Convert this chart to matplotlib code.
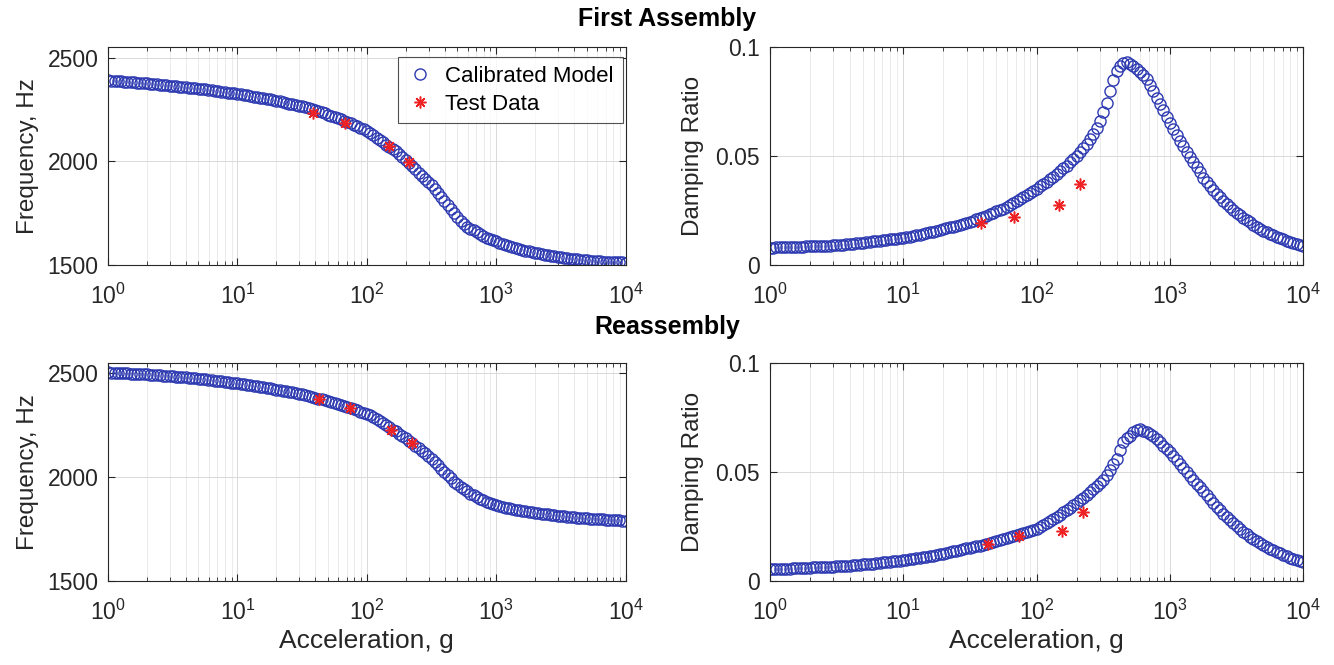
import numpy as np
import matplotlib
matplotlib.use("Agg")
import matplotlib.pyplot as plt
from matplotlib.ticker import LogLocator, NullLocator, FixedLocator

plt.rcParams['font.family'] = ['Liberation Sans', 'DejaVu Sans']
plt.rcParams['mathtext.default'] = 'regular'

# calibrated model, sampled every 1/40 decade from 1 g to 1e4 g
freq_first = [
    2390, 2389, 2388, 2387, 2386, 2384, 2383, 2382, 2381, 2379,
    2378, 2377, 2375, 2374, 2372, 2371, 2369, 2368, 2366, 2365,
    2363, 2361, 2360, 2358, 2356, 2355, 2353, 2351, 2350, 2348,
    2346, 2344, 2342, 2340, 2338, 2336, 2334, 2331, 2329, 2327,
    2325, 2322, 2320, 2317, 2315, 2312, 2309, 2306, 2304, 2301,
    2298, 2295, 2292, 2288, 2285, 2281, 2278, 2274, 2271, 2267,
    2264, 2260, 2255, 2250, 2245, 2240, 2235, 2230, 2225, 2220,
    2215, 2209, 2203, 2196, 2189, 2182, 2175, 2168, 2160, 2153,
    2145, 2135, 2124, 2113, 2102, 2091, 2080, 2069, 2058, 2047,
    2035, 2021, 2006, 1991, 1976, 1961, 1945, 1930, 1915, 1900,
    1885, 1866, 1846, 1826, 1806, 1787, 1767, 1748, 1730, 1712,
    1694, 1684, 1674, 1665, 1656, 1647, 1638, 1630, 1622, 1617,
    1612, 1606, 1600, 1594, 1589, 1584, 1579, 1575, 1571, 1568,
    1565, 1561, 1558, 1555, 1552, 1549, 1546, 1543, 1540, 1537,
    1535, 1533, 1531, 1529, 1527, 1526, 1524, 1522, 1521, 1519,
    1518, 1517, 1516, 1515, 1514, 1513, 1513, 1512, 1511, 1511,
    1510]

damp_first = [
    0.0078, 0.0078, 0.0079, 0.0079, 0.0080, 0.0080, 0.0081, 0.0081, 0.0082, 0.0082,
    0.0083, 0.0084, 0.0084, 0.0085, 0.0086, 0.0086, 0.0087, 0.0088, 0.0088, 0.0089,
    0.0090, 0.0091, 0.0092, 0.0093, 0.0095, 0.0096, 0.0098, 0.0100, 0.0101, 0.0103,
    0.0105, 0.0107, 0.0108, 0.0110, 0.0112, 0.0114, 0.0116, 0.0118, 0.0120, 0.0122,
    0.0124, 0.0127, 0.0129, 0.0132, 0.0135, 0.0138, 0.0141, 0.0145, 0.0148, 0.0151,
    0.0155, 0.0159, 0.0163, 0.0167, 0.0171, 0.0175, 0.0180, 0.0184, 0.0189, 0.0193,
    0.0198, 0.0203, 0.0208, 0.0214, 0.0220, 0.0226, 0.0232, 0.0238, 0.0245, 0.0251,
    0.0258, 0.0266, 0.0274, 0.0283, 0.0292, 0.0301, 0.0310, 0.0320, 0.0330, 0.0340,
    0.0350, 0.0360, 0.0371, 0.0382, 0.0394, 0.0405, 0.0417, 0.0430, 0.0443, 0.0456,
    0.0470, 0.0485, 0.0500, 0.0518, 0.0536, 0.0556, 0.0578, 0.0602, 0.0628, 0.0660,
    0.0700, 0.0745, 0.0800, 0.0850, 0.0890, 0.0915, 0.0928, 0.0930, 0.0925, 0.0915,
    0.0900, 0.0887, 0.0873, 0.0852, 0.0825, 0.0797, 0.0768, 0.0739, 0.0710, 0.0681,
    0.0652, 0.0624, 0.0597, 0.0570, 0.0544, 0.0519, 0.0494, 0.0470, 0.0447, 0.0425,
    0.0400, 0.0380, 0.0361, 0.0343, 0.0326, 0.0310, 0.0294, 0.0279, 0.0265, 0.0252,
    0.0239, 0.0227, 0.0215, 0.0204, 0.0194, 0.0184, 0.0175, 0.0166, 0.0157, 0.0149,
    0.0142, 0.0135, 0.0128, 0.0122, 0.0116, 0.0110, 0.0105, 0.0100, 0.0095, 0.0091,
    0.0087]

freq_re = [
    2505, 2504, 2503, 2503, 2502, 2501, 2500, 2499, 2499, 2498,
    2497, 2496, 2495, 2494, 2493, 2492, 2491, 2490, 2489, 2488,
    2487, 2485, 2484, 2482, 2481, 2479, 2477, 2476, 2474, 2473,
    2471, 2469, 2467, 2465, 2463, 2462, 2460, 2458, 2456, 2454,
    2452, 2450, 2447, 2445, 2443, 2440, 2438, 2435, 2433, 2430,
    2428, 2425, 2422, 2419, 2416, 2414, 2411, 2408, 2405, 2402,
    2399, 2395, 2391, 2387, 2383, 2379, 2375, 2371, 2367, 2362,
    2358, 2353, 2348, 2343, 2338, 2332, 2327, 2322, 2316, 2311,
    2305, 2297, 2288, 2279, 2269, 2259, 2249, 2239, 2229, 2220,
    2210, 2199, 2188, 2176, 2164, 2152, 2140, 2127, 2114, 2101,
    2088, 2072, 2056, 2040, 2024, 2008, 1993, 1978, 1964, 1951,
    1940, 1930, 1920, 1911, 1903, 1895, 1888, 1881, 1875, 1869,
    1864, 1860, 1856, 1852, 1848, 1845, 1842, 1839, 1836, 1834,
    1832, 1829, 1827, 1825, 1823, 1821, 1819, 1817, 1815, 1813,
    1812, 1810, 1809, 1807, 1806, 1804, 1803, 1802, 1800, 1799,
    1798, 1797, 1796, 1795, 1794, 1793, 1792, 1791, 1790, 1789,
    1788]

damp_re = [
    0.0052, 0.0053, 0.0053, 0.0054, 0.0054, 0.0055, 0.0055, 0.0056, 0.0056, 0.0057,
    0.0058, 0.0058, 0.0059, 0.0060, 0.0060, 0.0061, 0.0062, 0.0062, 0.0063, 0.0064,
    0.0065, 0.0066, 0.0067, 0.0068, 0.0069, 0.0070, 0.0071, 0.0073, 0.0074, 0.0075,
    0.0077, 0.0078, 0.0080, 0.0081, 0.0083, 0.0084, 0.0086, 0.0088, 0.0089, 0.0091,
    0.0093, 0.0095, 0.0097, 0.0099, 0.0102, 0.0104, 0.0107, 0.0110, 0.0112, 0.0115,
    0.0118, 0.0121, 0.0124, 0.0127, 0.0130, 0.0134, 0.0137, 0.0141, 0.0144, 0.0148,
    0.0151, 0.0154, 0.0158, 0.0161, 0.0165, 0.0169, 0.0173, 0.0177, 0.0181, 0.0186,
    0.0190, 0.0194, 0.0199, 0.0204, 0.0209, 0.0214, 0.0219, 0.0224, 0.0229, 0.0234,
    0.0239, 0.0247, 0.0255, 0.0264, 0.0273, 0.0282, 0.0292, 0.0302, 0.0313, 0.0324,
    0.0335, 0.0346, 0.0357, 0.0369, 0.0381, 0.0394, 0.0407, 0.0420, 0.0434, 0.0448,
    0.0463, 0.0485, 0.0510, 0.0535, 0.0560, 0.0600, 0.0635, 0.0655, 0.0667, 0.0683,
    0.0694, 0.0695, 0.0690, 0.0683, 0.0674, 0.0663, 0.0650, 0.0636, 0.0621, 0.0605,
    0.0590, 0.0573, 0.0555, 0.0537, 0.0518, 0.0500, 0.0482, 0.0464, 0.0446, 0.0429,
    0.0412, 0.0393, 0.0375, 0.0357, 0.0340, 0.0323, 0.0307, 0.0292, 0.0277, 0.0263,
    0.0250, 0.0237, 0.0225, 0.0213, 0.0202, 0.0192, 0.0182, 0.0172, 0.0163, 0.0155,
    0.0147, 0.0139, 0.0132, 0.0125, 0.0118, 0.0111, 0.0105, 0.0099, 0.0094, 0.0089,
    0.0084]

accel_model = 10 ** np.linspace(0, 4, len(freq_first))

# test data
accel_test_first = [38.5, 68, 147, 212]
freq_test_first = [2233, 2183, 2074, 1997]
damp_test_first = [0.0190, 0.0220, 0.0274, 0.0373]

accel_test_re = [43, 74, 155, 222]
freq_test_re = [2375, 2334, 2227, 2166]
damp_test_re = [0.0167, 0.0204, 0.0228, 0.0316]

blue = '#2c39b0'
red = '#ee2222'
star = (8, 2, 0)
txt = '#262626'

fig = plt.figure(figsize=(13.34, 6.65), dpi=100)
ax_tl = fig.add_axes([0.081, 0.602, 0.388, 0.327])
ax_tr = fig.add_axes([0.577, 0.602, 0.400, 0.327])
ax_bl = fig.add_axes([0.081, 0.127, 0.388, 0.327])
ax_br = fig.add_axes([0.577, 0.127, 0.400, 0.327])


def style(ax):
    ax.set_xscale('log')
    ax.set_xlim(1, 1e4)
    ax.xaxis.set_major_locator(LogLocator(base=10, numticks=10))
    ax.xaxis.set_minor_locator(LogLocator(base=10, subs=np.arange(2, 10), numticks=20))
    ax.yaxis.set_minor_locator(NullLocator())
    ax.grid(True, which='major', color='#d9d9d9', lw=0.7)
    ax.grid(True, which='minor', axis='x', color='#e8e8e8', lw=0.6)
    ax.set_axisbelow(True)
    ax.tick_params(which='both', direction='in', top=True, right=True,
                   labelsize=16.5, colors=txt)
    ax.tick_params(which='major', length=5)
    ax.tick_params(axis='x', which='major', pad=14)
    ax.tick_params(axis='y', which='major', pad=7)
    ax.tick_params(which='minor', length=3)
    for s in ax.spines.values():
        s.set_color(txt)
        s.set_linewidth(0.8)


for ax, f, acc_t, f_t in [(ax_tl, freq_first, accel_test_first, freq_test_first),
                          (ax_bl, freq_re, accel_test_re, freq_test_re)]:
    ax.plot(accel_model, f, 'o', mfc='none', mec=blue, ms=8, mew=1.0,
            label='Calibrated Model')
    ax.plot(acc_t, f_t, ls='none', marker=star, color=red, ms=8.5, mew=1.1,
            label='Test Data')
    style(ax)
    ax.set_ylim(1500, 2550)
    ax.yaxis.set_major_locator(FixedLocator([1500, 2000, 2500]))
    ax.set_ylabel('Frequency, Hz', fontsize=17.5, color=txt, labelpad=6)

for ax, d, acc_t, d_t in [(ax_tr, damp_first, accel_test_first, damp_test_first),
                          (ax_br, damp_re, accel_test_re, damp_test_re)]:
    ax.plot(accel_model, d, 'o', mfc='none', mec=blue, ms=8, mew=1.0)
    ax.plot(acc_t, d_t, ls='none', marker=star, color=red, ms=8.5, mew=1.1)
    style(ax)
    ax.set_ylim(0, 0.1)
    ax.yaxis.set_major_locator(FixedLocator([0, 0.05, 0.1]))
    ax.set_yticklabels(['0', '0.05', '0.1'])
    ax.set_ylabel('Damping Ratio', fontsize=17.5, color=txt, labelpad=8)

ax_bl.set_xlabel('Acceleration, g', fontsize=19, color=txt, labelpad=3)
ax_br.set_xlabel('Acceleration, g', fontsize=19, color=txt, labelpad=3)

leg = ax_tl.legend(loc='upper right', bbox_to_anchor=(0.994, 0.955),
                   borderaxespad=0, fontsize=16, fancybox=False,
                   edgecolor=txt, handlelength=1.1, handletextpad=0.6,
                   borderpad=0.4, labelspacing=0.3)
leg.get_frame().set_linewidth(0.8)

fig.text(0.5, 0.972, 'First Assembly', ha='center', va='center',
         fontsize=18, fontweight='bold')
fig.text(0.5, 0.508, 'Reassembly', ha='center', va='center',
         fontsize=18, fontweight='bold')

fig.savefig('out.png', dpi=100)
